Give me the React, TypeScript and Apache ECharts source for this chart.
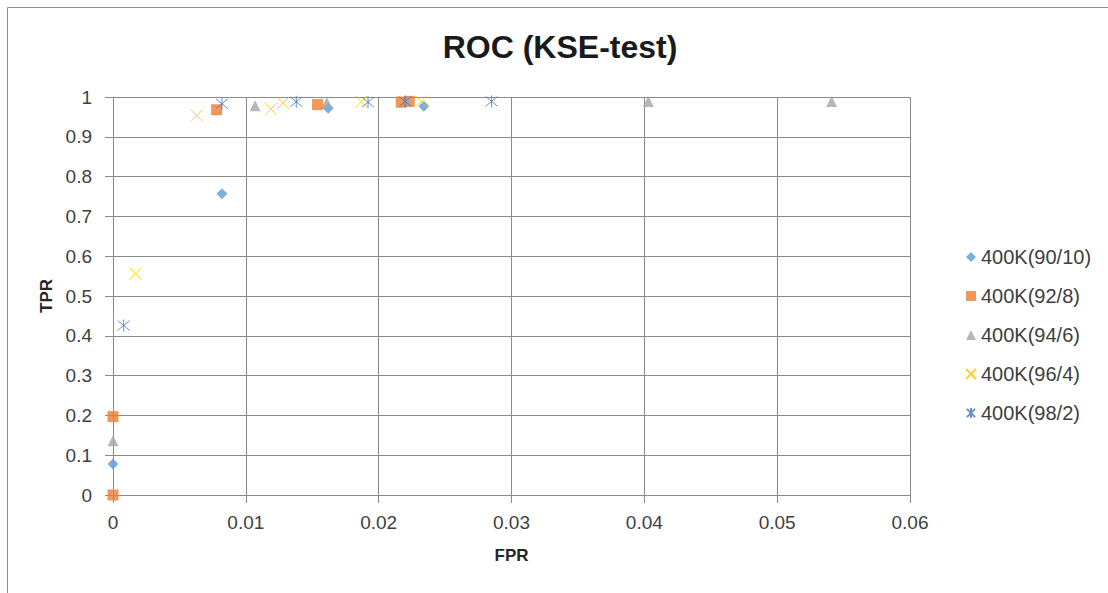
import React, { useEffect, useRef } from "react";
import * as echarts from "echarts";

// ROC points (FPR, TPR) per train/test split
const seriesNames = ["400K(90/10)", "400K(92/8)", "400K(94/6)", "400K(96/4)", "400K(98/2)"];

const fpr90 = [0, 0.0082, 0.0162, 0.0234];
const tpr90 = [0.078, 0.757, 0.972, 0.977];

const fpr92 = [0, 0, 0.0078, 0.0154, 0.0217, 0.0223];
const tpr92 = [0, 0.197, 0.968, 0.981, 0.987, 0.989];

const fpr94 = [0, 0.0107, 0.0161, 0.0221, 0.0403, 0.0541];
const tpr94 = [0.136, 0.978, 0.986, 0.99, 0.989, 0.989];

const fpr96 = [0.0017, 0.0063, 0.0119, 0.0128, 0.0187, 0.0232];
const tpr96 = [0.556, 0.953, 0.97, 0.985, 0.988, 0.989];

const fpr98 = [0.0008, 0.0082, 0.0138, 0.0192, 0.022, 0.0285];
const tpr98 = [0.426, 0.983, 0.988, 0.987, 0.989, 0.989];

const xTicks = [0, 0.01, 0.02, 0.03, 0.04, 0.05, 0.06];
const yTicks = [0, 0.1, 0.2, 0.3, 0.4, 0.5, 0.6, 0.7, 0.8, 0.9, 1];

const colors = ["#5B9BD5", "#ED7D31", "#A5A5A5", "#FFC000", "#4472C4"];

const CROSS = "path://M0,0L10,10M10,0L0,10";
const STAR = "path://M0,0L10,10M10,0L0,10M5,-1L5,11";

const pairs = (xs: number[], ys: number[]) => xs.map((x, i) => [x, ys[i]]);

const FONT = "'Liberation Sans', Arial, sans-serif";
const GRID_GRAY = "#8a8a8a";

export default function App() {
  const ref = useRef<HTMLDivElement>(null);

  useEffect(() => {
    if (!ref.current) return;
    const chart = echarts.init(ref.current, undefined, { renderer: "svg" });

    const data = [
      pairs(fpr90, tpr90),
      pairs(fpr92, tpr92),
      pairs(fpr94, tpr94),
      pairs(fpr96, tpr96),
      pairs(fpr98, tpr98),
    ];
    const symbols = ["diamond", "rect", "triangle", CROSS, STAR];
    const sizes = [11, 11, 11, 12, 12];

    chart.setOption({
      animation: false,
      backgroundColor: "#ffffff",
      title: {
        text: "ROC (KSE-test)",
        left: 560,
        textAlign: "center",
        top: 31,
        padding: 0,
        textStyle: { fontFamily: FONT, fontSize: 32, fontWeight: "bold", color: "#1a1a1a" },
      },
      legend: {
        orient: "vertical",
        left: 965,
        top: 247,
        padding: 0,
        itemWidth: 10,
        itemHeight: 10,
        itemGap: 19,
        textStyle: { fontFamily: FONT, fontSize: 20, lineHeight: 20, color: "#404040" },
        data: seriesNames,
      },
      graphic: [
        { type: "line", shape: { x1: 7.5, y1: 7.5, x2: 1108, y2: 7.5 }, style: { stroke: "#8c8c8c", lineWidth: 1 } },
        { type: "line", shape: { x1: 7.5, y1: 7.5, x2: 7.5, y2: 593 }, style: { stroke: "#8c8c8c", lineWidth: 1 } },
      ],
      grid: { left: 113, right: 198, top: 97, bottom: 98 },
      xAxis: {
        type: "value",
        min: xTicks[0],
        max: xTicks[xTicks.length - 1],
        interval: 0.01,
        name: "FPR",
        nameLocation: "middle",
        nameGap: 52,
        nameTextStyle: { fontFamily: FONT, fontSize: 17, fontWeight: "bold", color: "#262626" },
        axisLine: { show: true, lineStyle: { color: GRID_GRAY, width: 1 } },
        axisTick: { show: true, length: 8, lineStyle: { color: GRID_GRAY } },
        axisLabel: { margin: 18, fontFamily: FONT, fontSize: 19, color: "#404040" },
        splitLine: { show: true, lineStyle: { color: GRID_GRAY, width: 1 } },
      },
      yAxis: {
        type: "value",
        min: yTicks[0],
        max: yTicks[yTicks.length - 1],
        interval: 0.1,
        name: "TPR",
        nameLocation: "middle",
        nameGap: 57,
        nameTextStyle: { fontFamily: FONT, fontSize: 17, fontWeight: "bold", color: "#262626" },
        axisLine: { show: true, lineStyle: { color: GRID_GRAY, width: 1 } },
        axisTick: { show: true, length: 8, lineStyle: { color: GRID_GRAY } },
        axisLabel: { margin: 21, fontFamily: FONT, fontSize: 19, color: "#404040" },
        splitLine: { show: true, lineStyle: { color: GRID_GRAY, width: 1 } },
      },
      series: seriesNames.map((name, i) => ({
        name,
        type: "scatter",
        data: data[i],
        symbol: symbols[i],
        symbolSize: sizes[i],
        itemStyle:
          i >= 3
            ? { color: colors[i], borderColor: colors[i], borderWidth: 1 }
            : { color: colors[i] },
        emphasis: { disabled: true },
      })),
    });

    return () => chart.dispose();
  }, []);

  return (
    <div
      ref={ref}
      style={{ position: "absolute", left: 0, top: 0, width: 1108, height: 593 }}
    />
  );
}
